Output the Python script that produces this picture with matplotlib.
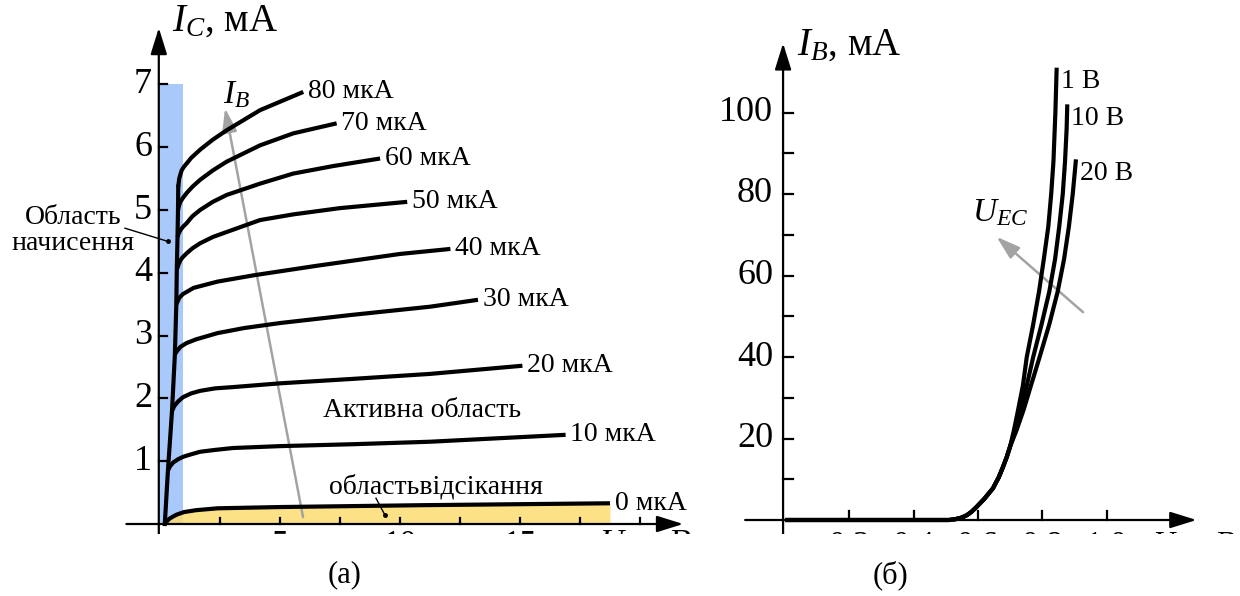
import matplotlib
matplotlib.use('Agg')
import matplotlib.pyplot as plt
from matplotlib.patches import Rectangle

plt.rcParams['font.family'] = ['Liberation Serif', 'DejaVu Serif']
plt.rcParams['mathtext.fontset'] = 'custom'
plt.rcParams['mathtext.rm'] = 'Liberation Serif'
plt.rcParams['mathtext.it'] = 'Liberation Serif:italic'

# (a) output characteristics, I_C (mA) vs U_CE (V)
sat_v = [0.2, 0.33, 0.5, 0.62, 0.68, 0.7, 0.73, 0.75, 0.76]
sat_i = [0.0, 0.85, 1.8, 2.7, 3.5, 4.05, 4.57, 5.0, 5.37]

v_0 = [0.2, 0.28, 0.38, 0.5, 0.7, 1.0, 1.5, 2.4, 5.0, 11.0, 18.75]
i_0 = [0.0, 0.04, 0.08, 0.11, 0.15, 0.19, 0.22, 0.25, 0.27, 0.30, 0.33]
v_10 = [0.33, 0.42, 0.55, 0.75, 0.96, 1.3, 1.67, 2.3, 3.04, 5.0, 8.0, 11.25, 16.9]
i_10 = [0.85, 0.92, 0.98, 1.03, 1.07, 1.11, 1.15, 1.18, 1.21, 1.24, 1.27, 1.31, 1.42]
v_20 = [0.5, 0.6, 0.75, 0.96, 1.3, 1.67, 2.3, 3.04, 5.0, 8.0, 11.25, 15.1]
i_20 = [1.8, 1.88, 1.95, 2.02, 2.08, 2.12, 2.16, 2.18, 2.24, 2.31, 2.39, 2.52]
v_30 = [0.62, 0.72, 0.85, 1.1, 1.5, 2.4, 3.5, 5.0, 8.0, 11.25, 13.25]
i_30 = [2.7, 2.76, 2.82, 2.88, 2.94, 3.04, 3.12, 3.2, 3.33, 3.46, 3.57]
v_40 = [0.68, 0.8, 0.95, 1.4, 2.4, 3.9, 6.5, 10.0, 12.1]
i_40 = [3.5, 3.6, 3.66, 3.76, 3.86, 3.96, 4.11, 4.3, 4.38]
v_50 = [0.7, 0.78, 0.85, 0.95, 1.11, 1.35, 1.67, 2.2, 2.78, 4.17, 5.55, 7.5, 10.3]
i_50 = [4.05, 4.14, 4.2, 4.25, 4.31, 4.39, 4.47, 4.57, 4.65, 4.84, 4.93, 5.03, 5.13]
v_60 = [0.73, 0.78, 0.85, 0.95, 1.11, 1.35, 1.67, 2.2, 2.78, 4.17, 5.55, 7.22, 9.17]
i_60 = [4.57, 4.63, 4.68, 4.73, 4.79, 4.9, 5.0, 5.13, 5.24, 5.42, 5.58, 5.7, 5.82]
v_70 = [0.75, 0.8, 0.85, 0.95, 1.11, 1.35, 1.67, 2.2, 2.78, 4.17, 5.55, 7.36]
i_70 = [5.0, 5.08, 5.13, 5.19, 5.27, 5.37, 5.48, 5.63, 5.77, 6.03, 6.22, 6.38]
v_80 = [0.76, 0.8, 0.9, 1.0, 1.11, 1.3, 1.67, 2.2, 2.78, 4.17, 5.97]
i_80 = [5.37, 5.5, 5.63, 5.69, 5.74, 5.83, 5.96, 6.12, 6.27, 6.59, 6.88]

ib_labels = ['0 мкА', '10 мкА', '20 мкА', '30 мкА', '40 мкА',
             '50 мкА', '60 мкА', '70 мкА', '80 мкА']
ic_ticks = [1, 2, 3, 4, 5, 6, 7]
uce_ticks = [2.5, 5, 7.5, 10, 12.5, 15, 17.5, 20]
uce_ticklabels = {5: '5', 10: '10', 15: '15'}

# (b) input characteristics, I_B (mA) vs U_BE (V)
common_v = [0.0, 0.51, 0.53, 0.55, 0.566, 0.58, 0.597, 0.62, 0.647, 0.665, 0.678, 0.69, 0.70]
common_i = [0.0, 0.0, 0.2, 0.6, 1.2, 2.0, 3.3, 5.2, 7.8, 10.5, 13.0, 15.5, 18.0]
v_1v = [0.712, 0.725, 0.74, 0.752, 0.772, 0.79, 0.805, 0.819, 0.828, 0.835, 0.841, 0.845]
i_1v = [22, 27, 33, 40, 48, 56, 64, 72, 80, 88, 100, 111]
v_10v = [0.716, 0.733, 0.752, 0.772, 0.798, 0.822, 0.84, 0.853, 0.864, 0.871, 0.876, 0.878]
i_10v = [22, 27, 33, 40, 48, 56, 64, 72, 80, 88, 96, 102]
v_20v = [0.72, 0.742, 0.765, 0.792, 0.822, 0.848, 0.868, 0.883, 0.895, 0.905]
i_20v = [22, 27, 33, 40, 48, 56, 64, 72, 80, 88.5]
uec_labels = ['1 В', '10 В', '20 В']
ib_ticks = [20, 40, 60, 80, 100]
ib_minor = [10, 30, 50, 70, 90]
ube_ticks = [0.2, 0.4, 0.6, 0.8, 1.0]

fig = plt.figure(figsize=(12.4, 5.96), dpi=100)
W, H = 1240, 596

# left axes: pixel -> data mapping, origin at (160, 524), 24 px/V, 62.8 px/mA
ax1 = fig.add_axes([0, 0, 720 / W, 1])
ax1.set_xlim(-160 / 24, 560 / 24)
ax1.set_ylim(-(H - 524) / 62.8, 524 / 62.8)
ax1.axis('off')

# right axes: origin at (785, 520), 321.5 px/V, 4.075 px/mA
ax2 = fig.add_axes([720 / W, 0, 520 / W, 1])
ax2.set_xlim(-65 / 321.5, 455 / 321.5)
ax2.set_ylim(-(H - 520) / 4.075, 520 / 4.075)
ax2.axis('off')

blue = '#a9c9fb'
yellow = '#fcdc72'
gray = '#a3a3a3'
lw_curve = 3.0
lw_axis = 1.6
arrow_props = dict(arrowstyle='-|>,head_length=0.9,head_width=0.28', color='black',
                   lw=lw_axis, shrinkA=0, shrinkB=0, mutation_scale=18)
gray_arrow = dict(arrowstyle='-|>,head_length=0.8,head_width=0.25', color=gray,
                  lw=1.8, shrinkA=0, shrinkB=0, mutation_scale=18)

# ----- panel (a) -----
ax1.add_patch(Rectangle((0.02, 0), 0.94, 7, color=blue, lw=0, zorder=1))
ax1.fill_between(v_0, 0, i_0, color=yellow, alpha=0.85, lw=0, zorder=1.5)

ax1.annotate('', xy=(21.8, 0), xytext=(-1.4, 0), arrowprops=arrow_props, zorder=3)
ax1.annotate('', xy=(-0.05, 7.9), xytext=(-0.05, -0.35), arrowprops=arrow_props, zorder=3)
for t in ic_ticks:
    ax1.plot([-0.05, 0.28], [t, t], color='black', lw=lw_axis, zorder=3)
    ax1.text(-0.33, t, str(t), ha='right', va='center', fontsize=26)
for t in uce_ticks:
    ax1.plot([t, t], [0, 0.1], color='black', lw=lw_axis, zorder=3)
for t, s in uce_ticklabels.items():
    ax1.text(t, -0.08, s, ha='center', va='top', fontsize=24)
ax1.text(18.3, -0.08, '$U_{CE}$, В', ha='left', va='top', fontsize=24)
ax1.text(0.5, 8.0, '$I_C$, мА', ha='left', va='center', fontsize=28)

ax1.plot(sat_v, sat_i, color='black', lw=lw_curve, solid_joinstyle='round', zorder=4)
curves_v = [v_0, v_10, v_20, v_30, v_40, v_50, v_60, v_70, v_80]
curves_i = [i_0, i_10, i_20, i_30, i_40, i_50, i_60, i_70, i_80]
for v, i, lab in zip(curves_v, curves_i, ib_labels):
    ax1.plot(v, i, color='black', lw=lw_curve, solid_joinstyle='round',
             solid_capstyle='butt', zorder=4)
    ax1.text(v[-1] + 0.2, i[-1], lab, ha='left', va='center', fontsize=20)

ax1.annotate('', xy=(2.71, 6.62), xytext=(5.96, 0.11), arrowprops=gray_arrow, zorder=2)
ax1.text(3.2, 6.83, '$I_B$', ha='center', va='center', fontsize=24)

ax1.text(-3.63, 4.67, 'Область\nначисення', ha='center', va='center', fontsize=20,
         linespacing=1.05)
ax1.plot([-1.46, 0.33], [4.71, 4.5], color='black', lw=1.0, zorder=5)
ax1.plot([0.33], [4.5], 'o', color='black', ms=2.5, zorder=5)
ax1.text(10.9, 1.8, 'Активна область', ha='center', va='center', fontsize=20)
ax1.text(11.5, 0.59, 'областьвідсікання', ha='center', va='center', fontsize=20)
ax1.plot([9.0, 9.375], [0.41, 0.14], color='black', lw=1.0, zorder=5)
ax1.plot([9.375], [0.14], 'o', color='black', ms=2.5, zorder=5)

# ----- panel (b) -----
ax2.annotate('', xy=(1.28, 0), xytext=(-0.124, 0), arrowprops=arrow_props, zorder=3)
ax2.annotate('', xy=(-0.006, 117), xytext=(-0.006, -4), arrowprops=arrow_props, zorder=3)
for t in ib_ticks + ib_minor:
    ax2.plot([-0.006, 0.025], [t, t], color='black', lw=lw_axis, zorder=3)
for t in ib_ticks:
    ax2.text(-0.037, t, str(t), ha='right', va='center', fontsize=26)
for t in ube_ticks:
    ax2.plot([t, t], [0, 2.2], color='black', lw=lw_axis, zorder=3)
    ax2.text(t, -2.5, f'{t:.1f}', ha='center', va='top', fontsize=24)
ax2.text(1.14, -2.5, '$U_{BE}$, В', ha='left', va='top', fontsize=22)
ax2.text(0.037, 116.6, '$I_B$, мА', ha='left', va='center', fontsize=28)

for v, i, lab in zip([v_1v, v_10v, v_20v], [i_1v, i_10v, i_20v], uec_labels):
    ax2.plot(common_v + v, common_i + i, color='black', lw=lw_curve,
             solid_joinstyle='round', solid_capstyle='butt', zorder=4)
    ax2.text(v[-1] + 0.012, i[-1] - 3.5, lab, ha='left', va='center', fontsize=20)

ax2.annotate('', xy=(0.658, 69.5), xytext=(0.927, 51), arrowprops=gray_arrow, zorder=2)
ax2.text(0.669, 75.5, '$U_{EC}$', ha='center', va='center', fontsize=24)

# the source picture is cut just below the horizontal axes
fig.add_artist(Rectangle((0, (H - 560) / H), 1, 26 / H, transform=fig.transFigure,
                         color='white', lw=0, zorder=10))
fig.text(345 / W, 1 - 575 / H, '(а)', ha='center', va='center', fontsize=22, zorder=11)
fig.text(890 / W, 1 - 575 / H, '(б)', ha='center', va='center', fontsize=22, zorder=11)

fig.savefig('out.png', dpi=100)
